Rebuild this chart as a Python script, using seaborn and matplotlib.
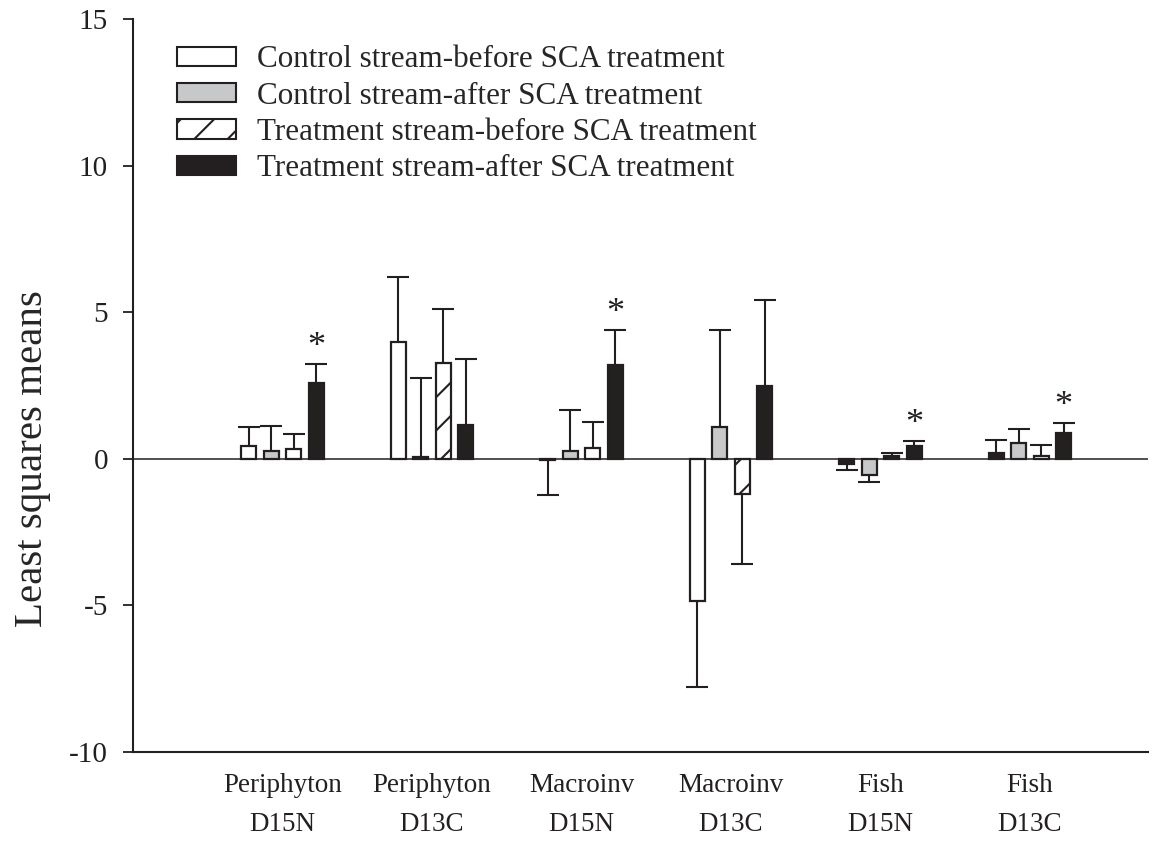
import pandas as pd
import matplotlib
matplotlib.use("Agg")
import matplotlib.pyplot as plt
from matplotlib.patches import Patch
import seaborn as sns

# Values
groups = ["Periphyton\nD15N", "Periphyton\nD13C", "Macroinv\nD15N",
          "Macroinv\nD13C", "Fish\nD15N", "Fish\nD13C"]
series = ["Control stream-before SCA treatment",
          "Control stream-after SCA treatment",
          "Treatment stream-before SCA treatment",
          "Treatment stream-after SCA treatment"]

ctrl_before = [0.42, 3.98, -0.05, -4.85, -0.18, 0.20]
ctrl_after = [0.25, 0.07, 0.27, 1.10, -0.55, 0.55]
trt_before = [0.34, 3.27, 0.36, -1.20, 0.08, 0.11]
trt_after = [2.58, 1.17, 3.20, 2.47, 0.45, 0.88]

ctrl_before_se = [0.67, 2.22, 1.20, 2.93, 0.19, 0.45]
ctrl_after_se = [0.86, 2.69, 1.41, 3.30, 0.25, 0.47]
trt_before_se = [0.51, 1.83, 0.90, 2.39, 0.11, 0.37]
trt_after_se = [0.67, 2.23, 1.19, 2.93, 0.17, 0.35]

significant = [True, False, True, False, True, True]

yticks = [-10, -5, 0, 5, 10, 15]

# Build long table
df = pd.DataFrame({
    "group": groups * 4,
    "series": sum([[s] * len(groups) for s in series], []),
    "value": ctrl_before + ctrl_after + trt_before + trt_after,
})
se_list = [ctrl_before_se, ctrl_after_se, trt_before_se, trt_after_se]

sns.set_style("ticks")
plt.rcParams["font.family"] = ["Liberation Serif", "DejaVu Serif"]
plt.rcParams["hatch.linewidth"] = 1.5

ink = "#231f20"
grey = "#c6c8ca"
fills = ["white", grey, "white", ink]

fig = plt.figure(figsize=(11.7, 8.51), dpi=100)
ax = fig.add_axes([0.1137, 0.1163, 0.8675, 0.8614])

sns.barplot(data=df, x="group", y="value", hue="series", order=groups,
            hue_order=series, palette=fills, width=0.6, gap=0.33,
            edgecolor=ink, linewidth=1.6, errorbar=None, legend=False,
            ax=ax, zorder=3)

bar_sets = list(ax.containers)
for i, cont in enumerate(bar_sets):
    for j, bar in enumerate(cont.patches):
        if i == 2:
            bar.set_hatch("/")
        y0 = bar.get_y()
        h = bar.get_height()
        v = max(y0, y0 + h) if min(y0, y0 + h) >= 0 else min(y0, y0 + h)
        x = bar.get_x() + bar.get_width() / 2
        err = se_list[i][j]
        yerr = [[0], [err]] if v >= 0 else [[err], [0]]
        eb = ax.errorbar([x], [v], yerr=yerr, fmt="none", ecolor=ink,
                         elinewidth=1.5, capsize=8, capthick=1.5, zorder=2)
        # one-sided bars: hide the cap sitting on the bar end
        for cap in eb[1]:
            if abs(cap.get_ydata()[0] - v) < 1e-9:
                cap.set_visible(False)
        if i == 3 and significant[j]:
            ax.text(x, v + err + 0.55, "*", ha="center", va="center",
                    fontsize=26, color=ink)

# odd colouring of the fish bars in the original figure
bar_sets[0].patches[4].set_facecolor(ink)
bar_sets[0].patches[5].set_facecolor(ink)
bar_sets[2].patches[4].set_facecolor(ink)
bar_sets[2].patches[4].set_hatch(None)
bar_sets[2].patches[5].set_hatch(None)

ax.axhline(0, color=ink, lw=1.1, zorder=4)

ax.set_ylim(-10, 15)
ax.set_xlim(-1.0, 5.79)
ax.set_yticks(yticks)
ax.set_yticklabels([str(t) for t in yticks])
ax.set_xticks(range(len(groups)))
ax.set_xticklabels(groups, linespacing=1.75)
ax.set_xlabel("")
ax.set_ylabel("Least squares means", fontsize=29.5)
ax.yaxis.set_label_coords(-0.081, 0.40)
ax.tick_params(axis="y", length=7, width=1.3, labelsize=21, pad=11,
               colors=ink)
ax.tick_params(axis="x", length=0, labelsize=19.5, pad=15, colors=ink)

sns.despine(ax=ax)
for s in ["left", "bottom"]:
    ax.spines[s].set_linewidth(1.5)
    ax.spines[s].set_color(ink)

handles = [Patch(facecolor=fills[0], edgecolor=ink, lw=1.5),
           Patch(facecolor=fills[1], edgecolor=ink, lw=1.5),
           Patch(facecolor=fills[2], edgecolor=ink, lw=1.5, hatch="/"),
           Patch(facecolor=fills[3], edgecolor=ink, lw=1.5)]
ax.legend(handles, series, loc="upper left", bbox_to_anchor=(0.043, 0.964),
          frameon=False, fontsize=22.4, handlelength=1.9, handleheight=0.57,
          handletextpad=0.68, labelspacing=0.235, borderpad=0, borderaxespad=0)

plt.savefig("out.png", dpi=100)
